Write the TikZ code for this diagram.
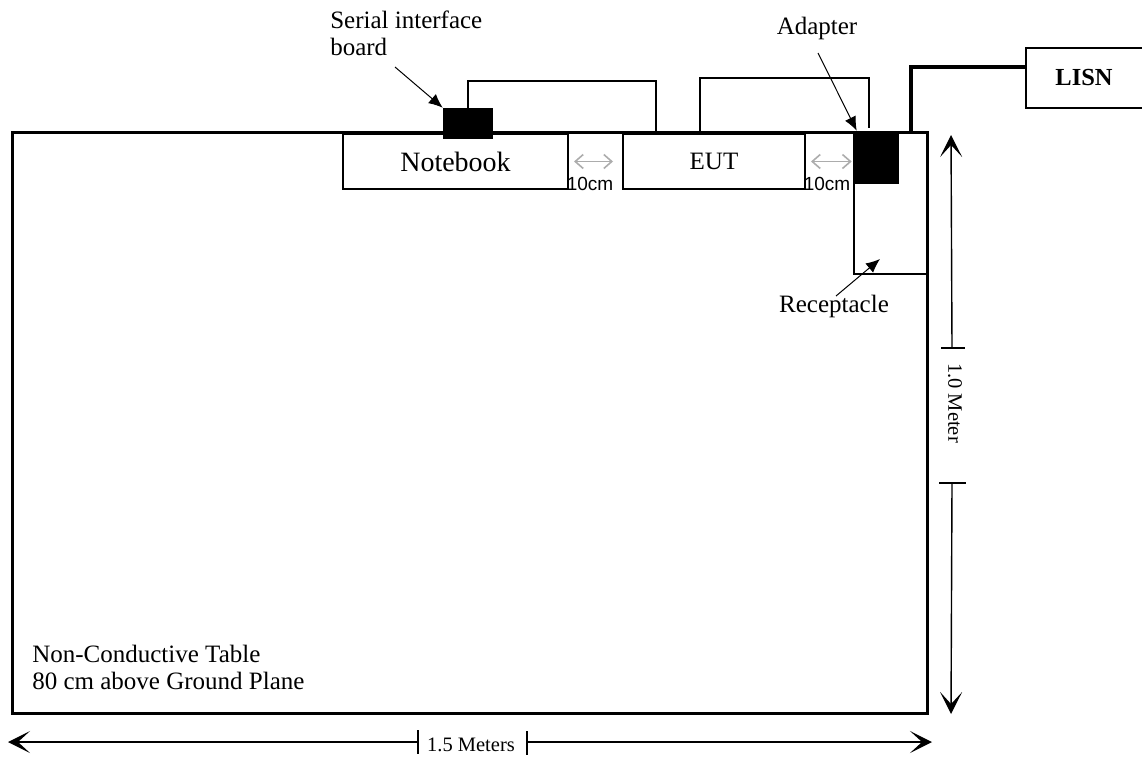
\documentclass[tikz,border=0pt]{standalone}
\usepackage{fontspec}
\setmainfont{Liberation Serif}
\setsansfont{Liberation Sans}
\usetikzlibrary{arrows.meta}

\begin{document}
\begin{tikzpicture}[x=1pt,y=-1pt,semithick,font=\fontsize{25}{27}\selectfont]
 \tikzstyle{box}=[draw,line width=2pt,inner sep=0pt]
 \tikzstyle{blk}=[draw,fill=black,inner sep=0pt]
 \tikzstyle{cable}=[line width=2pt]
 \tikzstyle{pointer}=[-{Latex[length=14pt,width=12pt]},line width=1pt]
 \tikzstyle{dim}=[line width=1.4pt]
 \tikzstyle{dimtip}=[-{Stealth[length=22pt,width=22pt,inset=12pt]}]
 \tikzstyle{gap}=[{Straight Barb[length=8pt,width=14pt]}-{Straight Barb[length=8pt,width=14pt]},gray!65,line width=1.6pt]
 \tikzstyle{small}=[font=\fontsize{20.5}{22}\selectfont]

 \useasboundingbox (0,0) rectangle (1142,756);

   % table and equipment
   \node[draw,line width=3pt,inner sep=0pt,minimum width=915pt,minimum height=581pt] (tbl) at (469.5,422.5) {};
   \node[box,minimum width=225pt,minimum height=55pt,font=\fontsize{28}{30}\selectfont] (nb) at (455.5,161.5) {Notebook};
   \node[box,minimum width=182pt,minimum height=55pt] (eut) at (714,161.5) {EUT};
   \node[box,minimum width=73pt,minimum height=141pt] (rcp) at (890.5,203.5) {};
   \node[blk,minimum width=43pt,minimum height=50pt] (adp) at (876.5,158) {};
   \node[blk,minimum width=49pt,minimum height=30pt] (sib) at (467.5,123) {};
   \node[box,minimum width=180pt,minimum height=60pt,font=\bfseries\fontsize{24.5}{26}\selectfont] (lisn) at (1116,78) {LISN\kern64pt};

   % cables
   \draw[cable] (sib.north) -- (467.5,81) -| ([xshift=34pt]eut.north west);
   \draw[cable] ([xshift=78pt]eut.north west) |- (869,78) -- ([xshift=-7.5pt,yshift=5pt]adp.north);
   \draw[line width=3.5pt] ([xshift=20.5pt]rcp.north) |- ([yshift=11pt]lisn.west);

   % labels
   \node[anchor=north west,align=left,inner sep=0pt] (sil) at (330,11) {Serial interface\\board};
   \node[anchor=base] (adl) at (817,34) {Adapter};
   \node[anchor=base] (rcl) at (834,312) {Receptacle};
   \draw[pointer] (395,67) -- (sib.north west);
   \draw[pointer] (818,53) -- ([xshift=2pt,yshift=2pt]adp.north west);
   \draw[pointer] (836,296) -- ([xshift=-10.5pt,yshift=16pt]rcp.south);

   % 10cm spacing
   \draw[gap] ([xshift=5pt]nb.east) -- ([xshift=-9pt]eut.west);
   \draw[gap] ([xshift=5pt]eut.east) -- ([xshift=-3pt]eut.east -| adp.west);
   \node[anchor=base,inner sep=0pt,font=\sffamily\fontsize{19}{19}\selectfont] (g1) at (590,190) {10cm};
   \node[anchor=base,inner sep=0pt,font=\sffamily\fontsize{19}{19}\selectfont] (g2) at (827,190) {10cm};

   \node[anchor=north west,align=left,inner sep=0pt] (tlab) at (32,645) {Non-Conductive Table\\80 cm above Ground Plane};

   % dimensions
   \coordinate (vt) at (951,135);
   \coordinate (vb) at (951,714);
   \coordinate (v1) at (952,348);
   \coordinate (v2) at (952,483);
   \draw[dim,dimtip] (v1) -- (vt);
   \draw[dim,dimtip] (v2) -- (vb);
   \draw[dim] ([xshift=-11pt]v1) -- ([xshift=13pt]v1);
   \draw[dim] ([xshift=-13pt]v2) -- ([xshift=14pt]v2);
   \node[small,rotate=-90] (vlab) at (955,403) {1.0 Meter};

   \coordinate (hl) at (8,742);
   \coordinate (hr) at (932,742);
   \coordinate (h1) at (418,742);
   \coordinate (h2) at (527,742);
   \draw[dim,dimtip] (h1) -- (hl);
   \draw[dim,dimtip] (h2) -- (hr);
   \draw[dim] ([yshift=12pt]h1) -- ([yshift=-12pt]h1);
   \draw[dim] ([yshift=11pt]h2) -- ([yshift=-13pt]h2);
   \node[small] (hlab) at (471,745) {1.5 Meters};

\end{tikzpicture}
\end{document}
